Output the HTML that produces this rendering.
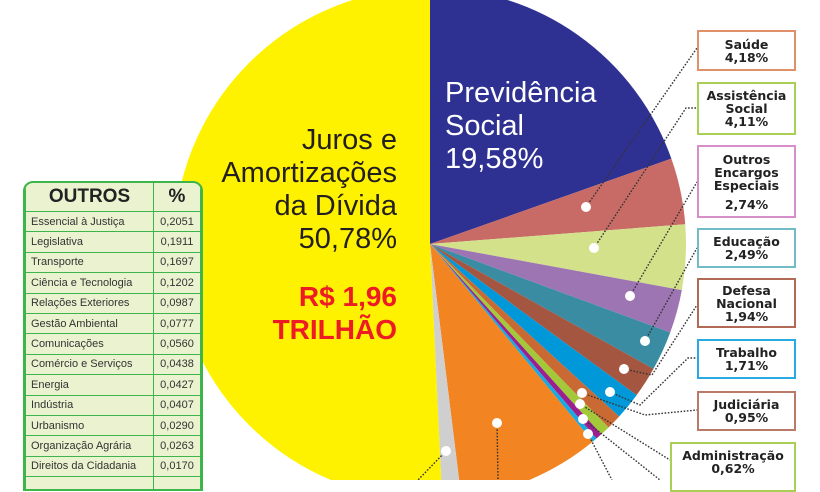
<!DOCTYPE html>
<html><head><meta charset="utf-8"><style>
body{margin:0;width:820px;height:480px;overflow:hidden;background:#fff;font-family:"Liberation Sans",sans-serif;position:relative}
.tbl{position:absolute;left:23px;top:181px;width:180px;height:310px;background:#eaf2cf;border:2px solid #3db54a;border-radius:10px 10px 0 0;box-sizing:border-box;overflow:hidden}
.tbl table{border-collapse:collapse;width:100%}
.tbl td{border:1px solid #3db54a;font-size:11px;color:#333;height:19.4px;padding:0 0 0 5px}
.tbl td.v{width:44px;padding:0;text-align:center}
.tbl th{border:1px solid #3db54a;font-size:19px;font-weight:bold;color:#222;height:26px;border-top:none}
.box{position:absolute;background:#fff;border:2px solid;box-sizing:border-box;text-align:center;font-family:"DejaVu Sans",sans-serif;font-weight:bold;font-size:12.5px;line-height:13px;color:#222;display:flex;flex-direction:column;justify-content:center}
.t{position:absolute;white-space:nowrap}
</style></head><body>
<svg width="820" height="480" style="position:absolute;left:0;top:0">
<g transform="rotate(-90 430 244)" fill="none" stroke-width="256">
<circle cx="430" cy="244" r="128" stroke="#2e3192" stroke-dasharray="157.47 900" stroke-dashoffset="0"/>
<circle cx="430" cy="244" r="128" stroke="#c86b67" stroke-dasharray="33.62 900" stroke-dashoffset="-157.47"/>
<circle cx="430" cy="244" r="128" stroke="#d3e28a" stroke-dasharray="33.05 900" stroke-dashoffset="-191.09"/>
<circle cx="430" cy="244" r="128" stroke="#9e75b3" stroke-dasharray="22.04 900" stroke-dashoffset="-224.14"/>
<circle cx="430" cy="244" r="128" stroke="#3a8ca3" stroke-dasharray="20.03 900" stroke-dashoffset="-246.18"/>
<circle cx="430" cy="244" r="128" stroke="#a45640" stroke-dasharray="15.60 900" stroke-dashoffset="-266.21"/>
<circle cx="430" cy="244" r="128" stroke="#0098d8" stroke-dasharray="13.75 900" stroke-dashoffset="-281.81"/>
<circle cx="430" cy="244" r="128" stroke="#c96a35" stroke-dasharray="7.64 900" stroke-dashoffset="-295.56"/>
<circle cx="430" cy="244" r="128" stroke="#a3c93a" stroke-dasharray="4.99 900" stroke-dashoffset="-303.20"/>
<circle cx="430" cy="244" r="128" stroke="#9b1f8e" stroke-dasharray="3.22 900" stroke-dashoffset="-308.19"/>
<circle cx="430" cy="244" r="128" stroke="#1aa9e0" stroke-dasharray="2.41 900" stroke-dashoffset="-311.41"/>
<circle cx="430" cy="244" r="128" stroke="#f28421" stroke-dasharray="72.38 900" stroke-dashoffset="-313.82"/>
<circle cx="430" cy="244" r="128" stroke="#cfcfcf" stroke-dasharray="9.65 900" stroke-dashoffset="-386.20"/>
<circle cx="430" cy="244" r="128" stroke="#fff200" stroke-dasharray="408.40 900" stroke-dashoffset="-395.85"/>
</g>
<g fill="none" stroke="#333" stroke-width="1.4" stroke-dasharray="1.6 1.6">
<polyline points="586,207 697,48"/>
<polyline points="594,248 686,108 697,108"/>
<polyline points="630,296 697,182"/>
<polyline points="645,341 697,248"/>
<polyline points="624,369 652,375 697,305"/>
<polyline points="610,392 640,405 688,358 697,358"/>
<polyline points="582,393 645,415 697,410"/>
<polyline points="580,404 670,460"/>
<polyline points="583,419 660,480"/>
<polyline points="588,434 612,480"/>
<polyline points="497,423 498,480"/>
<polyline points="446,451 418,480"/>
</g>
<g fill="#fff">
<circle cx="586" cy="207" r="5"/><circle cx="594" cy="248" r="5"/><circle cx="630" cy="296" r="5"/>
<circle cx="645" cy="341" r="5"/><circle cx="624" cy="369" r="5"/><circle cx="610" cy="392" r="5"/>
<circle cx="582" cy="393" r="5"/><circle cx="580" cy="404" r="5"/><circle cx="583" cy="419" r="5"/>
<circle cx="588" cy="434" r="5"/><circle cx="497" cy="423" r="5"/><circle cx="446" cy="451" r="5"/>
</g>
</svg>
<div class="t" style="left:445px;top:77px;color:#fff;font-size:29px;line-height:33px">Previdência<br>Social<br>19,58%</div>
<div class="t" style="right:423px;top:124px;color:#231f20;font-size:29px;line-height:33px;text-align:right">Juros e<br>Amortizações<br>da Dívida<br>50,78%</div>
<div class="t" style="right:423px;top:280px;color:#ed1c24;font-size:28px;line-height:33px;font-weight:bold;text-align:right">R$ 1,96<br>TRILHÃO</div>
<div class="tbl"><table>
<tr><th>OUTROS</th><th style="width:44px">%</th></tr>
<tr><td>Essencial à Justiça</td><td class="v">0,2051</td></tr>
<tr><td>Legislativa</td><td class="v">0,1911</td></tr>
<tr><td>Transporte</td><td class="v">0,1697</td></tr>
<tr><td>Ciência e Tecnologia</td><td class="v">0,1202</td></tr>
<tr><td>Relações Exteriores</td><td class="v">0,0987</td></tr>
<tr><td>Gestão Ambiental</td><td class="v">0,0777</td></tr>
<tr><td>Comunicações</td><td class="v">0,0560</td></tr>
<tr><td>Comércio e Serviços</td><td class="v">0,0438</td></tr>
<tr><td>Energia</td><td class="v">0,0427</td></tr>
<tr><td>Indústria</td><td class="v">0,0407</td></tr>
<tr><td>Urbanismo</td><td class="v">0,0290</td></tr>
<tr><td>Organização Agrária</td><td class="v">0,0263</td></tr>
<tr><td>Direitos da Cidadania</td><td class="v">0,0170</td></tr>
<tr><td>&nbsp;</td><td class="v"></td></tr>
</table></div>
<div class="box" style="left:697px;top:30px;width:99px;height:41px;border-color:#e0916a">Saúde<br>4,18%</div>
<div class="box" style="left:697px;top:82px;width:99px;height:53px;border-color:#a9cf54">Assistência<br>Social<br>4,11%</div>
<div class="box" style="left:697px;top:145px;width:99px;height:73px;border-color:#d68fc8">Outros<br>Encargos<br>Especiais<br><span style="margin-top:6px">2,74%</span></div>
<div class="box" style="left:697px;top:228px;width:99px;height:40px;border-color:#72bcc7">Educação<br>2,49%</div>
<div class="box" style="left:697px;top:278px;width:99px;height:50px;border-color:#b06a55">Defesa<br>Nacional<br>1,94%</div>
<div class="box" style="left:697px;top:339px;width:99px;height:40px;border-color:#29abe2">Trabalho<br>1,71%</div>
<div class="box" style="left:697px;top:391px;width:99px;height:40px;border-color:#b97a68">Judiciária<br>0,95%</div>
<div class="box" style="left:670px;top:442px;width:126px;height:50px;border-color:#a9cf54;justify-content:flex-start;padding-top:5px">Administração<br>0,62%</div>
</body></html>
